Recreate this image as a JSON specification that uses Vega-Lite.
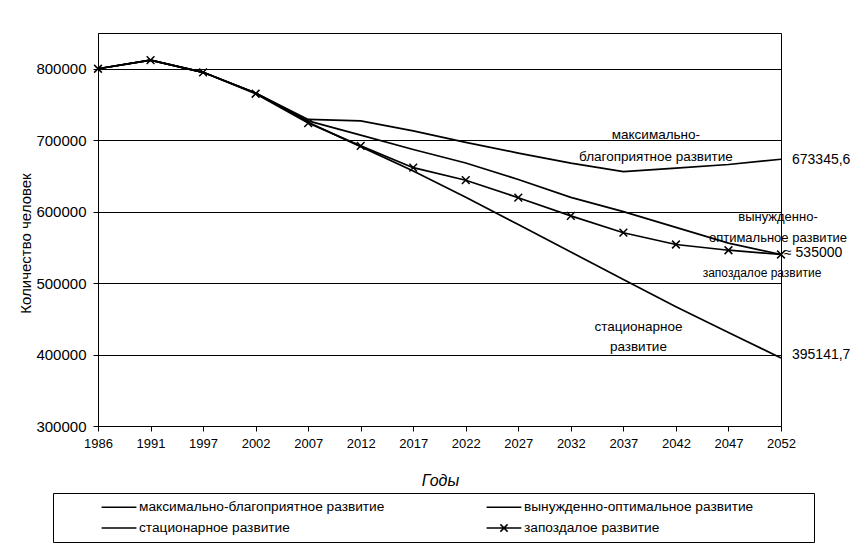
{
  "$schema": "https://vega.github.io/schema/vega-lite/v6.json",
  "width": 683,
  "height": 393,
  "autosize": {"type": "none"},
  "padding": {"left": 98, "top": 33, "right": 80, "bottom": 118},
  "background": "white",
  "config": {
    "font": "Liberation Sans",
    "view": {"stroke": "black", "strokeWidth": 1},
    "axis": {
      "domainColor": "black",
      "tickColor": "black",
      "labelColor": "black",
      "titleColor": "black",
      "gridColor": "black",
      "gridOpacity": 1,
      "gridWidth": 1,
      "labelFont": "Liberation Sans",
      "titleFont": "Liberation Sans",
      "titleFontWeight": "normal"
    },
    "text": {"font": "Liberation Sans", "color": "black"}
  },
  "datasets": {
    "series": [
      {"year": "1986", "series": "максимально-благоприятное развитие", "value": 800000},
      {"year": "1991", "series": "максимально-благоприятное развитие", "value": 812000},
      {"year": "1997", "series": "максимально-благоприятное развитие", "value": 795000},
      {"year": "2002", "series": "максимально-благоприятное развитие", "value": 766000},
      {"year": "2007", "series": "максимально-благоприятное развитие", "value": 729000},
      {"year": "2012", "series": "максимально-благоприятное развитие", "value": 727000},
      {"year": "2017", "series": "максимально-благоприятное развитие", "value": 713000},
      {"year": "2022", "series": "максимально-благоприятное развитие", "value": 697000},
      {"year": "2027", "series": "максимально-благоприятное развитие", "value": 682000},
      {"year": "2032", "series": "максимально-благоприятное развитие", "value": 668000},
      {"year": "2037", "series": "максимально-благоприятное развитие", "value": 656000},
      {"year": "2042", "series": "максимально-благоприятное развитие", "value": 661000},
      {"year": "2047", "series": "максимально-благоприятное развитие", "value": 666000},
      {"year": "2052", "series": "максимально-благоприятное развитие", "value": 673345.6},
      {"year": "1986", "series": "вынужденно-оптимальное развитие", "value": 800000},
      {"year": "1991", "series": "вынужденно-оптимальное развитие", "value": 812000},
      {"year": "1997", "series": "вынужденно-оптимальное развитие", "value": 795000},
      {"year": "2002", "series": "вынужденно-оптимальное развитие", "value": 766000},
      {"year": "2007", "series": "вынужденно-оптимальное развитие", "value": 727000},
      {"year": "2012", "series": "вынужденно-оптимальное развитие", "value": 707000},
      {"year": "2017", "series": "вынужденно-оптимальное развитие", "value": 687000},
      {"year": "2022", "series": "вынужденно-оптимальное развитие", "value": 668000},
      {"year": "2027", "series": "вынужденно-оптимальное развитие", "value": 645000},
      {"year": "2032", "series": "вынужденно-оптимальное развитие", "value": 620000},
      {"year": "2037", "series": "вынужденно-оптимальное развитие", "value": 600000},
      {"year": "2042", "series": "вынужденно-оптимальное развитие", "value": 578000},
      {"year": "2047", "series": "вынужденно-оптимальное развитие", "value": 556000},
      {"year": "2052", "series": "вынужденно-оптимальное развитие", "value": 540000},
      {"year": "1986", "series": "стационарное развитие", "value": 800000},
      {"year": "1991", "series": "стационарное развитие", "value": 812000},
      {"year": "1997", "series": "стационарное развитие", "value": 795000},
      {"year": "2002", "series": "стационарное развитие", "value": 766000},
      {"year": "2007", "series": "стационарное развитие", "value": 725000},
      {"year": "2012", "series": "стационарное развитие", "value": 691000},
      {"year": "2017", "series": "стационарное развитие", "value": 657000},
      {"year": "2022", "series": "стационарное развитие", "value": 620000},
      {"year": "2027", "series": "стационарное развитие", "value": 582000},
      {"year": "2032", "series": "стационарное развитие", "value": 543500},
      {"year": "2037", "series": "стационарное развитие", "value": 505000},
      {"year": "2042", "series": "стационарное развитие", "value": 467000},
      {"year": "2047", "series": "стационарное развитие", "value": 431000},
      {"year": "2052", "series": "стационарное развитие", "value": 395141.7},
      {"year": "1986", "series": "запоздалое развитие", "value": 800000},
      {"year": "1991", "series": "запоздалое развитие", "value": 812000},
      {"year": "1997", "series": "запоздалое развитие", "value": 795000},
      {"year": "2002", "series": "запоздалое развитие", "value": 765000},
      {"year": "2007", "series": "запоздалое развитие", "value": 724000},
      {"year": "2012", "series": "запоздалое развитие", "value": 692000},
      {"year": "2017", "series": "запоздалое развитие", "value": 661500},
      {"year": "2022", "series": "запоздалое развитие", "value": 644000},
      {"year": "2027", "series": "запоздалое развитие", "value": 619500},
      {"year": "2032", "series": "запоздалое развитие", "value": 594000},
      {"year": "2037", "series": "запоздалое развитие", "value": 570500},
      {"year": "2042", "series": "запоздалое развитие", "value": 554000},
      {"year": "2047", "series": "запоздалое развитие", "value": 546000},
      {"year": "2052", "series": "запоздалое развитие", "value": 540000}
    ],
    "notes": [
      {"year": "2042", "value": 707000, "label": "максимально-"},
      {"year": "2042", "value": 676200, "label": "благоприятное развитие"},
      {"year": "2052", "value": 672000, "label": "673345,6"},
      {"year": "2052", "value": 399300, "label": "395141,7"},
      {"year": "2052", "value": 542000, "label": "≈ 535000"},
      {"year": "2052", "value": 592300, "label": "вынужденно-"},
      {"year": "2052", "value": 563000, "label": "оптимальное развитие"},
      {"year": "2052", "value": 514000, "label": "запоздалое развитие"},
      {"year": "2037", "value": 438500, "label": "стационарное"},
      {"year": "2037", "value": 410500, "label": "развитие"}
    ]
  },
  "encoding": {
    "x": {
      "field": "year",
      "type": "ordinal",
      "scale": {"type": "point", "padding": 0},
      "axis": {
        "title": "Годы",
        "titleFontStyle": "italic",
        "titleFontSize": 16,
        "titleX": 342,
        "titleY": 54,
        "titleBaseline": "middle",
        "labelAngle": 0,
        "labelFontSize": 13,
        "labelPadding": 6,
        "tickSize": 5,
        "grid": false
      }
    },
    "y": {
      "field": "value",
      "type": "quantitative",
      "scale": {"domain": [300000, 850000], "nice": false, "zero": false},
      "axis": {
        "title": "Количество человек",
        "titleFontSize": 15,
        "titleX": -73,
        "titleY": 210,
        "titleAngle": -90,
        "titleAlign": "center",
        "titleBaseline": "middle",
        "values": [300000, 400000, 500000, 600000, 700000, 800000],
        "format": "d",
        "labelFontSize": 15,
        "labelPadding": 7,
        "tickSize": 5,
        "grid": true
      }
    }
  },
  "layer": [
    {
      "data": {"name": "series"},
      "mark": {"type": "line", "strokeWidth": 1.7},
      "encoding": {
        "color": {
          "field": "series",
          "type": "nominal",
          "scale": {
            "domain": ["максимально-благоприятное развитие", "вынужденно-оптимальное развитие", "стационарное развитие", "запоздалое развитие"],
            "range": ["black", "black", "black", "black"]
          },
          "legend": {
            "orient": "none",
            "direction": "horizontal",
            "legendX": -45,
            "legendY": 460,
            "columns": 2,
            "title": null,
            "symbolType": "M-2.9,0H2.9",
            "symbolSize": 144,
            "symbolStrokeWidth": 1.5,
            "symbolStrokeColor": "black",
            "symbolOffset": 52,
            "labelOffset": 13,
            "labelFontSize": 13.7,
            "labelFont": "Liberation Sans",
            "labelColor": "black",
            "labelLimit": 500,
            "labelExpr": "datum.label + '\u00a0\u00a0\u00a0\u00a0\u00a0\u00a0\u00a0\u00a0\u00a0\u00a0\u00a0\u00a0\u00a0\u00a0\u200b'",
            "columnPadding": 7,
            "rowPadding": 7,
            "padding": 7,
            "strokeColor": "black",
            "encode": {
              "symbols": {
                "update": {
                  "shape": {"signal": "datum.value === 'запоздалое развитие' ? 'M-2.9,0H2.9M-0.6,-0.6L0.6,0.6M-0.6,0.6L0.6,-0.6' : 'M-2.9,0H2.9'"}
                }
              }
            }
          }
        }
      }
    },
    {
      "data": {"name": "series"},
      "transform": [{"filter": "datum.series === 'запоздалое развитие'"}],
      "mark": {"type": "point", "shape": "M-1,-1L1,1M-1,1L1,-1", "size": 60, "filled": false, "stroke": "black", "strokeWidth": 1.5, "opacity": 1}
    },
    {
      "data": {"name": "notes"},
      "transform": [{"filter": {"field": "label", "oneOf": ["максимально-", "благоприятное развитие"]}}],
      "mark": {"type": "text", "align": "center", "baseline": "middle", "dx": -20, "fontSize": 13.5},
      "encoding": {"text": {"field": "label"}}
    },
    {
      "data": {"name": "notes"},
      "transform": [{"filter": {"field": "label", "oneOf": ["673345,6", "395141,7"]}}],
      "mark": {"type": "text", "align": "left", "baseline": "middle", "dx": 11, "fontSize": 14},
      "encoding": {"text": {"field": "label"}}
    },
    {
      "data": {"name": "notes"},
      "transform": [{"filter": {"field": "label", "oneOf": ["≈ 535000"]}}],
      "mark": {"type": "text", "align": "left", "baseline": "middle", "dx": 3, "fontSize": 14},
      "encoding": {"text": {"field": "label"}}
    },
    {
      "data": {"name": "notes"},
      "transform": [{"filter": {"field": "label", "oneOf": ["вынужденно-", "оптимальное развитие"]}}],
      "mark": {"type": "text", "align": "center", "baseline": "middle", "dx": -3, "fontSize": 13},
      "encoding": {"text": {"field": "label"}}
    },
    {
      "data": {"name": "notes"},
      "transform": [{"filter": {"field": "label", "oneOf": ["запоздалое развитие"]}}],
      "mark": {"type": "text", "align": "center", "baseline": "middle", "dx": -19, "fontSize": 12},
      "encoding": {"text": {"field": "label"}}
    },
    {
      "data": {"name": "notes"},
      "transform": [{"filter": {"field": "label", "oneOf": ["стационарное", "развитие"]}}],
      "mark": {"type": "text", "align": "center", "baseline": "middle", "dx": 15, "fontSize": 13.5},
      "encoding": {"text": {"field": "label"}}
    }
  ]
}
